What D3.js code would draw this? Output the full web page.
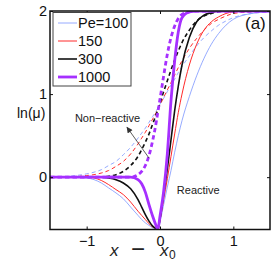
<html>
<head>
<script src="https://d3js.org/d3.v7.min.js"></script>
<style>
body { margin: 0; background: #fff; }
text { font-family: "Liberation Sans", Arial, sans-serif; fill: #111; }
</style>
</head>
<body>
<script>
// x - x0 samples
var xs = [-1.5, -1.25, -1, -0.9, -0.8, -0.7, -0.6, -0.5, -0.4, -0.3, -0.25, -0.2, -0.15, -0.1, -0.05, -0.03,
          0, 0.05, 0.1, 0.15, 0.2, 0.25, 0.3, 0.4, 0.5, 0.6, 0.7, 0.8, 0.9, 1, 1.25, 1.5];

// non-reactive (dashed)
var nr100  = [0, 0.01, 0.04, 0.06, 0.09, 0.14, 0.19, 0.27, 0.36, 0.47, 0.53, 0.59, 0.66, 0.73, 0.80, 0.83,
              0.88, 0.95, 1.03, 1.11, 1.18, 1.26, 1.33, 1.46, 1.58, 1.68, 1.76, 1.83, 1.88, 1.92, 1.97, 1.99];
var nr150  = [0, 0, 0.02, 0.03, 0.05, 0.08, 0.13, 0.19, 0.28, 0.40, 0.47, 0.54, 0.62, 0.70, 0.78, 0.82,
              0.87, 0.96, 1.05, 1.14, 1.23, 1.32, 1.40, 1.55, 1.67, 1.77, 1.85, 1.90, 1.94, 1.97, 1.99, 2];
var nr300  = [0, 0, 0, 0, 0, 0.01, 0.03, 0.07, 0.14, 0.25, 0.33, 0.42, 0.52, 0.64, 0.76, 0.81,
              0.89, 1.03, 1.16, 1.29, 1.41, 1.52, 1.62, 1.77, 1.88, 1.94, 1.97, 1.99, 2, 2, 2, 2];
var nr1000 = [0, 0, 0, 0, 0, 0, 0, 0, 0, 0.03, 0.07, 0.14, 0.26, 0.44, 0.67, 0.78,
              0.94, 1.22, 1.48, 1.68, 1.82, 1.91, 1.96, 1.99, 2, 2, 2, 2, 2, 2, 2, 2];

// reactive (solid)
var r100  = [0, 0, -0.01, -0.03, -0.07, -0.13, -0.19, -0.26, -0.36, -0.46, -0.51, -0.55, -0.58, -0.61, -0.625, -0.63,
             -0.54, -0.33, -0.12, 0.08, 0.30, 0.50, 0.68, 0.97, 1.22, 1.43, 1.60, 1.73, 1.83, 1.90, 1.97, 1.99];
var r150  = [0, 0, 0, -0.01, -0.04, -0.09, -0.15, -0.21, -0.30, -0.41, -0.46, -0.51, -0.56, -0.60, -0.62, -0.63,
             -0.52, -0.27, -0.02, 0.25, 0.52, 0.78, 1.00, 1.35, 1.60, 1.77, 1.87, 1.93, 1.97, 1.99, 2, 2];
var r300  = [0, 0, 0, 0, 0, -0.01, -0.03, -0.07, -0.14, -0.27, -0.36, -0.45, -0.53, -0.59, -0.62, -0.63,
             -0.50, -0.20, 0.10, 0.45, 0.80, 1.10, 1.35, 1.68, 1.87, 1.95, 1.98, 2, 2, 2, 2, 2];
var r1000 = [0, 0, 0, 0, 0, 0, 0, 0, 0, -0.03, -0.08, -0.18, -0.33, -0.47, -0.59, -0.63,
             -0.47, -0.17, 0.28, 0.92, 1.40, 1.75, 1.92, 1.99, 2, 2, 2, 2, 2, 2, 2, 2];

var peLabels = ["Pe=100", "150", "300", "1000"];
var xTicks = [-1, 0, 1];
var yTicks = [0, 1, 2];

var nonReactive = [nr100, nr150, nr300, nr1000];
var reactive = [r100, r150, r300, r1000];
var colors = ["#7b96ff", "#ff2a2a", "#111111", "#a630ff"];
var widths = [0.8, 1, 1.6, 2.8];

var w = 275, h = 261;
var pl = 50, pr = 270, pt = 11, pb = 229.5;

var xScale = d3.scaleLinear().domain([-1.5, 1.5]).range([pl, pr]);
var yScale = d3.scaleLinear().domain([-0.63, 2]).range([pb, pt]);

var svg = d3.select("body").append("svg").attr("width", w).attr("height", h);

svg.append("clipPath").attr("id", "plot").append("rect")
  .attr("x", pl).attr("y", pt).attr("width", pr - pl).attr("height", pb - pt);

var line = d3.line()
  .x(function(d, i) { return xScale(xs[i]); })
  .y(function(d) { return yScale(d); })
  .curve(d3.curveMonotoneX);

var g = svg.append("g").attr("clip-path", "url(#plot)");
for (var i = 0; i < 4; i++) {
  g.append("path").attr("d", line(nonReactive[i])).attr("fill", "none")
    .attr("stroke", colors[i]).attr("stroke-width", widths[i])
    .attr("stroke-dasharray", i == 3 ? "4.5,3" : "4,3");
  g.append("path").attr("d", line(reactive[i])).attr("fill", "none")
    .attr("stroke", colors[i]).attr("stroke-width", widths[i]);
}

// axes (ticks inside, MATLAB style)
var fmt = d3.format("d");
var xAxis = d3.axisBottom(xScale).tickValues(xTicks).tickSizeInner(-3).tickSizeOuter(0).tickPadding(6).tickFormat(fmt);
var yAxis = d3.axisLeft(yScale).tickValues(yTicks).tickSizeInner(-3).tickSizeOuter(0).tickPadding(3).tickFormat(fmt);
var xTop = d3.axisTop(xScale).tickValues(xTicks).tickSizeInner(-3).tickSizeOuter(0).tickFormat("");
var yRight = d3.axisRight(yScale).tickValues(yTicks).tickSizeInner(-3).tickSizeOuter(0).tickFormat("");

function styleAxis(sel) {
  sel.select(".domain").remove();
  sel.selectAll("text").attr("font-size", 14.5).attr("font-family", '"Liberation Sans", Arial, sans-serif').attr("fill", "#111");
  sel.selectAll("line").attr("stroke", "#111");
}
svg.append("g").attr("transform", "translate(0," + pb + ")").call(xAxis).call(styleAxis);
svg.append("g").attr("transform", "translate(" + pl + ",0)").call(yAxis).call(styleAxis);
svg.append("g").attr("transform", "translate(0," + pt + ")").call(xTop).call(styleAxis);
svg.append("g").attr("transform", "translate(" + pr + ",0)").call(yRight).call(styleAxis);

svg.append("rect").attr("x", pl).attr("y", pt).attr("width", pr - pl).attr("height", pb - pt)
  .attr("fill", "none").attr("stroke", "#111").attr("stroke-width", 1.5);

// legend
var lg = svg.append("g");
lg.append("rect").attr("x", 53).attr("y", 12.5).attr("width", 78).attr("height", 73.5)
  .attr("fill", "#fff").attr("stroke", "#444").attr("stroke-width", 1);
peLabels.forEach(function(lab, i) {
  var y = 23 + i * 18;
  lg.append("line").attr("x1", 58).attr("x2", 77).attr("y1", y).attr("y2", y)
    .attr("stroke", colors[i]).attr("stroke-width", widths[i]);
  lg.append("text").attr("x", 78).attr("y", y).attr("dy", "0.36em").attr("font-size", 14.5).text(lab);
});

// labels
svg.append("text").attr("x", 17).attr("y", 118).attr("font-size", 14).text("ln(μ)");
svg.append("text").attr("x", 245).attr("y", 29).attr("font-size", 17).text("(a)");

var xl = svg.append("text").attr("y", 255.5).attr("font-family", '"Liberation Serif", "DejaVu Serif", serif')
  .attr("font-size", 17).style("fill", "#222");
xl.append("tspan").attr("x", 110).attr("font-style", "italic").text("x");
xl.append("tspan").attr("x", 131).attr("font-size", 24).attr("dy", 1).text("−");
xl.append("tspan").attr("x", 160).attr("dy", -1).attr("font-style", "italic").text("x");
xl.append("tspan").attr("x", 169).attr("dy", 3).attr("font-size", 12).text("0");

// annotations
svg.append("text").attr("x", xScale(-1.16)).attr("y", yScale(0.66)).attr("font-size", 11).style("fill", "#222").text("Non−reactive");
svg.append("text").attr("x", xScale(0.23)).attr("y", yScale(-0.205)).attr("font-size", 11).style("fill", "#222").text("Reactive");

svg.append("defs").append("marker").attr("id", "ah").attr("viewBox", "0 0 10 10")
  .attr("refX", 9).attr("refY", 5).attr("markerWidth", 7).attr("markerHeight", 6)
  .attr("markerUnits", "userSpaceOnUse").attr("orient", "auto")
  .append("path").attr("d", "M0,0L10,5L0,10z").attr("fill", "#333");
svg.append("line")
  .attr("x1", xScale(-0.15)).attr("y1", yScale(0.23))
  .attr("x2", xScale(-0.45)).attr("y2", yScale(0.60))
  .attr("stroke", "#333").attr("stroke-width", 0.8).attr("marker-end", "url(#ah)");
</script>
</body>
</html>
